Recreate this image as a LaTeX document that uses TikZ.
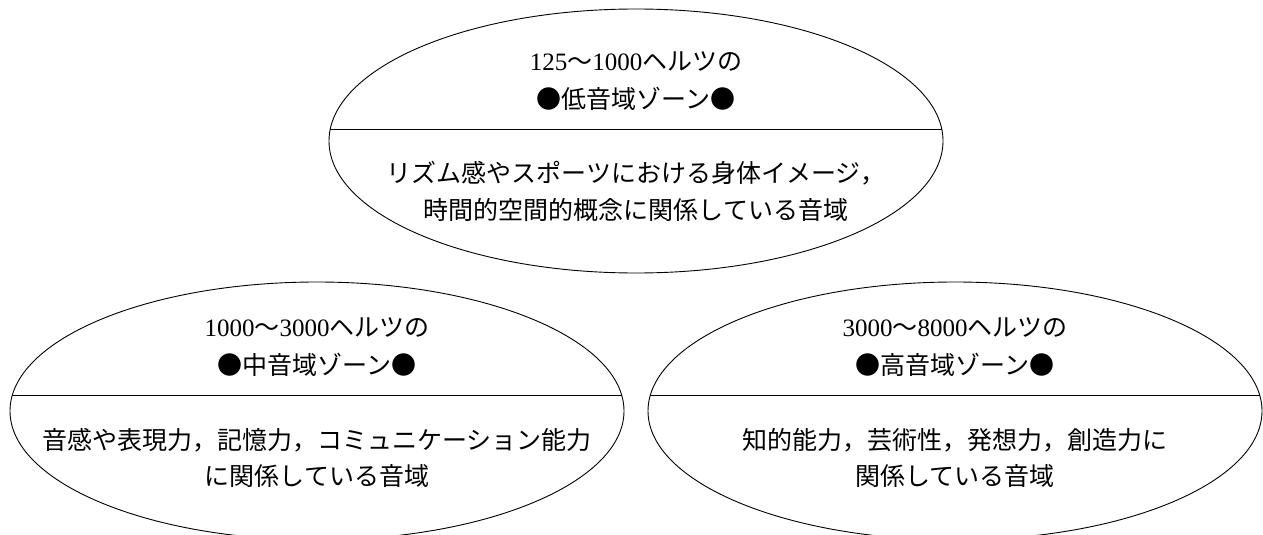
\documentclass[tikz,border=0pt]{standalone}
\usepackage{fontspec}
\setmainfont{Liberation Serif}
\newfontfamily\jp{Noto Sans CJK JP}
\usetikzlibrary{shapes.geometric}
\newcommand{\dg}[1]{{\rmfamily #1}}
\tikzset{
  zone/.style={draw, ellipse, line width=0.9pt, inner sep=0pt, outer sep=0pt,
    minimum width=614pt, minimum height=258pt},
  topzone/.style={zone, minimum height=264pt},
  divider/.style={line width=0.9pt},
  lbl/.style={font=\fontsize{25}{30}\selectfont\jp, inner sep=0pt, anchor=center}
}
\begin{document}
\begin{tikzpicture}[x=1pt,y=-1pt]
\useasboundingbox (0,0) rectangle (1263,535);
% top ellipse
\node[topzone] (low) at (636,141) {};
\draw[divider] ([xshift=-305.7pt,yshift=12pt]low.center) -- ([xshift=305.7pt,yshift=12pt]low.center);
\node[lbl] (lowa) at (636,62) {\dg{125}～\dg{1000}ヘルツの};
\node[lbl] (lowb) at (636,99) {●低音域ゾーン●};
\node[lbl] (lowc) at (636,173) {リズム感やスポーツにおける身体イメージ，};
\node[lbl] (lowd) at (636,210) {時間的空間的概念に関係している音域};
% lower left ellipse
\node[zone] (mid) at (317,411) {};
\draw[divider] ([xshift=-305.0pt,yshift=16pt]mid.center) -- ([xshift=305.0pt,yshift=16pt]mid.center);
\node[lbl] (mida) at (317,328) {\dg{1000}～\dg{3000}ヘルツの};
\node[lbl] (midb) at (317,365) {●中音域ゾーン●};
\node[lbl] (midc) at (317,440) {音感や表現力，記憶力，コミュニケーション能力};
\node[lbl] (midd) at (317,476) {に関係している音域};
% lower right ellipse
\node[zone] (high) at (955,411) {};
\draw[divider] ([xshift=-305.0pt,yshift=16pt]high.center) -- ([xshift=305.0pt,yshift=16pt]high.center);
\node[lbl] (higha) at (955,328) {\dg{3000}～\dg{8000}ヘルツの};
\node[lbl] (highb) at (955,365) {●高音域ゾーン●};
\node[lbl] (highc) at (955,440) {知的能力，芸術性，発想力，創造力に};
\node[lbl] (highd) at (955,476) {関係している音域};
\end{tikzpicture}
\end{document}
